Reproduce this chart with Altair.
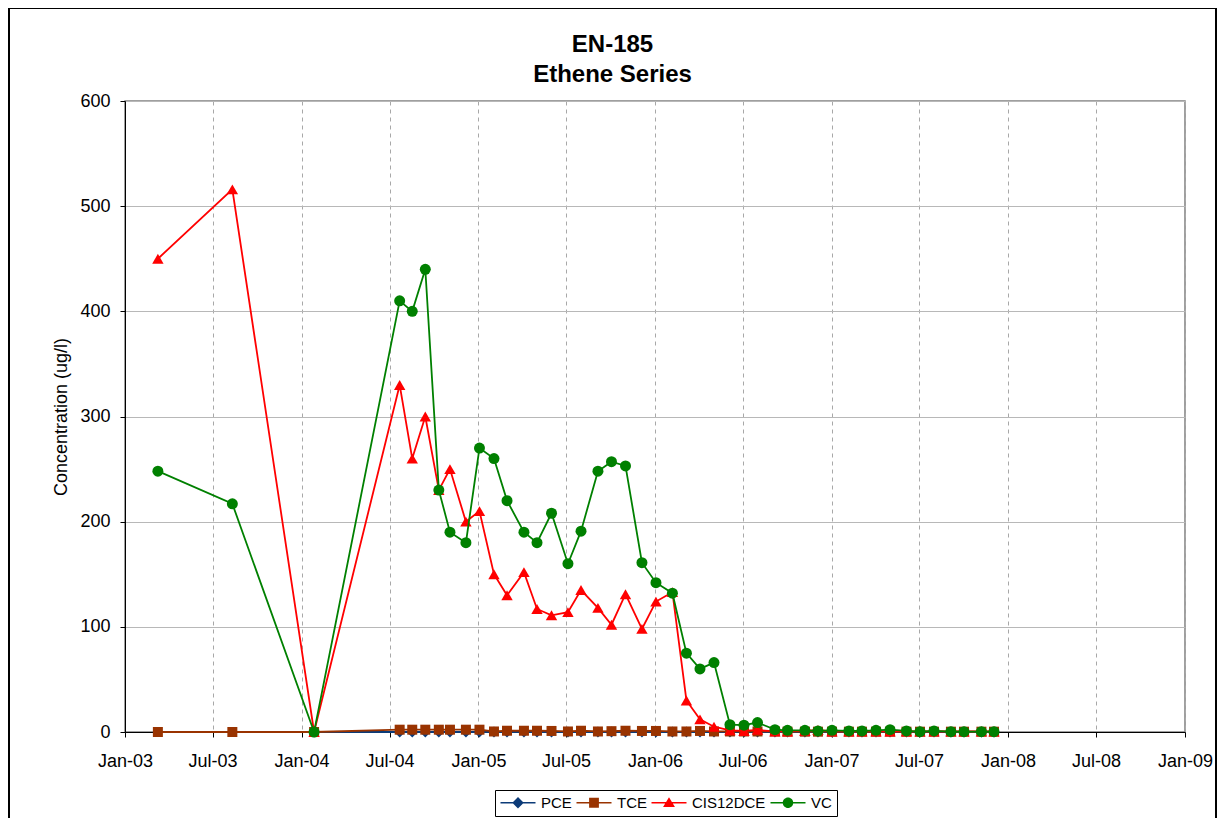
import altair as alt
import pandas as pd

FONT = "Liberation Sans"

dates = [
    "2003-03-10", "2003-08-11", "2004-01-27", "2004-07-22", "2004-08-17",
    "2004-09-13", "2004-10-11", "2004-11-03", "2004-12-06", "2005-01-03",
    "2005-02-02", "2005-03-01", "2005-04-05", "2005-05-02", "2005-06-01",
    "2005-07-05", "2005-08-01", "2005-09-05", "2005-10-03", "2005-11-01",
    "2005-12-05", "2006-01-03", "2006-02-06", "2006-03-07", "2006-04-04",
    "2006-05-03", "2006-06-05", "2006-07-04", "2006-08-01", "2006-09-06",
    "2006-10-02", "2006-11-07", "2006-12-04", "2007-01-02", "2007-02-06",
    "2007-03-05", "2007-04-03", "2007-05-02", "2007-06-05", "2007-07-03",
    "2007-08-01", "2007-09-05", "2007-10-02", "2007-11-07", "2007-12-03",
]

pce = [None, None, 0, 0, 0, 0, 0, 0, 0, 0,
       0, 0, 0, 0, 0, 0, 0, 0, 0, 0,
       0, 0, 0, 0, 0, 0, 0, 0, 0, 0,
       0, 0, 0, 0, 0, 0, 0, 0, 0, 0,
       0, 0, 0, 0, 0]

tce = [0, 0, 0, 2.2, 2.2, 2.2, 2.2, 2.2, 2.2, 2.2,
       0.5, 1.2, 1.2, 1.2, 1, 0.5, 1.2, 0.5, 0.8, 1.2,
       1, 1, 0.5, 0.5, 1, 0.5, 0.5, 0.5, 0.5, 0.5,
       0.3, 0.3, 0.3, 0.3, 0.3, 0.3, 0.3, 0.3, 0.3, 0.3,
       0.3, 0.3, 0.3, 0.3, 0.3]

cis12dce = [450, 516, 0, 330, 260, 300, 230, 250, 200, 210,
            150, 130, 152, 117, 111, 114, 135, 118, 102, 131,
            98, 124, 133, 30, 12, 5, 1.5, 1, 2, 0.5,
            0.5, 1, 2, 0.5, 0.5, 0.5, 0.5, 0.5, 0.5, 0.5,
            0.5, 0.5, 0.5, 0.5, 0.5]

vc = [248, 217, 0, 410, 400, 440, 230, 190, 180, 270,
      260, 220, 190, 180, 208, 160, 191, 248, 257, 253,
      161, 142, 132, 75, 60, 66, 7, 6.5, 9, 2.2,
      1.6, 1.6, 1, 1.6, 1, 1, 1.6, 2.2, 1, 0.3,
      1, 0.3, 0.3, 0.3, 0.3]

series_names = ["PCE", "TCE", "CIS12DCE", "VC"]
series_values = [pce, tce, cis12dce, vc]
colors = ["#0c3b78", "#993300", "#ff0000", "#008000"]
markers = ["diamond", "square", "triangle-up", "circle"]
marker_sizes = [121, 100, 130, 121]

# legend symbols: a line segment with the marker in the middle (unit = 7px)
line_part = "M-2.5,-0.11H2.5V0.11H-2.5Z"
legend_paths = [
    line_part + "M0,-0.82L0.82,0L0,0.82L-0.82,0Z",
    line_part + "M-0.7,-0.7H0.7V0.7H-0.7Z",
    line_part + "M0,-0.8L0.85,0.62H-0.85Z",
    line_part + "M-0.75,0A0.75,0.75,0,1,1,0.75,0A0.75,0.75,0,1,1,-0.75,0Z",
]

rows = []
for name, vals in zip(series_names, series_values):
    for d, v in zip(dates, vals):
        if v is not None:
            rows.append({"date": d, "series": name, "value": v})
df = pd.DataFrame(rows)

color_scale = alt.Scale(domain=series_names, range=colors)

x_ticks = []
for yr in range(2003, 2010):
    x_ticks.append(alt.DateTime(year=yr, month=1, date=1, utc=True))
    if yr < 2009:
        x_ticks.append(alt.DateTime(year=yr, month=7, date=1, utc=True))

x_enc = alt.X(
    "date:T",
    scale=alt.Scale(type="utc",
                    domain=[alt.DateTime(year=2003, month=1, date=1, utc=True),
                            alt.DateTime(year=2009, month=1, date=1, utc=True)]),
    axis=alt.Axis(values=x_ticks, labelExpr="utcFormat(datum.value, '%b-%y')",
                  title=None, labelFlush=False, labelOverlap=False, labelAngle=0,
                  labelPadding=15, grid=True, gridDash=[4, 4],
                  gridColor="#a8a8a8", gridWidth=1),
)
y_enc = alt.Y(
    "value:Q",
    scale=alt.Scale(domain=[0, 600], nice=False),
    axis=alt.Axis(values=[0, 100, 200, 300, 400, 500, 600],
                  title="Concentration (ug/l)", titlePadding=9,
                  labelPadding=10, grid=True, gridColor="#b8b8b8", gridWidth=1),
)

base = alt.Chart(df)
layers = []
for name, shp, sz in zip(series_names, markers, marker_sizes):
    sub = base.transform_filter(alt.datum.series == name)
    layers.append(
        sub.mark_line(strokeWidth=1.8).encode(
            x=x_enc, y=y_enc,
            color=alt.Color("series:N", scale=color_scale, legend=None),
            order="date:T",
        )
    )
    layers.append(
        sub.mark_point(shape=shp, size=sz, filled=True, opacity=1).encode(
            x=x_enc, y=y_enc,
            color=alt.Color("series:N", scale=color_scale, legend=None),
        )
    )

legend_props = dict(
    title=None, orient="none", legendX=370, legendY=689,
    direction="horizontal", columns=4,
    symbolSize=196, symbolOpacity=1, symbolStrokeWidth=0,
    symbolOffset=10.5, labelOffset=15.5,
    labelFont=FONT, labelFontSize=15, labelColor="black",
    columnPadding=4, padding=5, strokeColor="black", fillColor="white",
)

legend_df = pd.DataFrame({"key": series_names})
legend_layer = alt.Chart(legend_df).mark_point(filled=True, opacity=0, size=196).encode(
    x=alt.value(0), y=alt.value(0),
    color=alt.Color("key:N", scale=alt.Scale(domain=series_names, range=colors),
                    legend=alt.Legend(**legend_props)),
    shape=alt.Shape("key:N", scale=alt.Scale(domain=series_names, range=legend_paths),
                    legend=alt.Legend(**legend_props)),
)

frame = alt.Chart(pd.DataFrame({"f": [0]})).mark_rect(
    filled=False, stroke="black", strokeWidth=2
).encode(
    x=alt.value(-116), x2=alt.value(1091), y=alt.value(-93), y2=alt.value(740)
)

chart = alt.layer(frame, *layers, legend_layer).resolve_scale(
    color="independent", shape="independent"
).properties(
    width=1060,
    height=631,
    padding={"left": 117, "top": 93, "right": 32, "bottom": 86},
    autosize=alt.AutoSizeParams(type="none"),
    title=alt.TitleParams(
        text=["EN-185", "Ethene Series"], font=FONT, fontSize=24,
        fontWeight="bold", color="black", anchor="middle", frame="bounds",
        baseline="bottom", lineHeight=30, offset=-104,
    ),
).configure_view(
    stroke="#808080", strokeWidth=1.5
).configure_axis(
    labelFont=FONT, labelFontSize=18, labelColor="black",
    titleFont=FONT, titleFontSize=18, titleFontWeight="normal", titleColor="black",
    domainColor="black", domainWidth=1, tickColor="black", tickSize=5, tickWidth=1,
)

chart.save("out.html", embed_options={"renderer": "svg", "actions": False})
